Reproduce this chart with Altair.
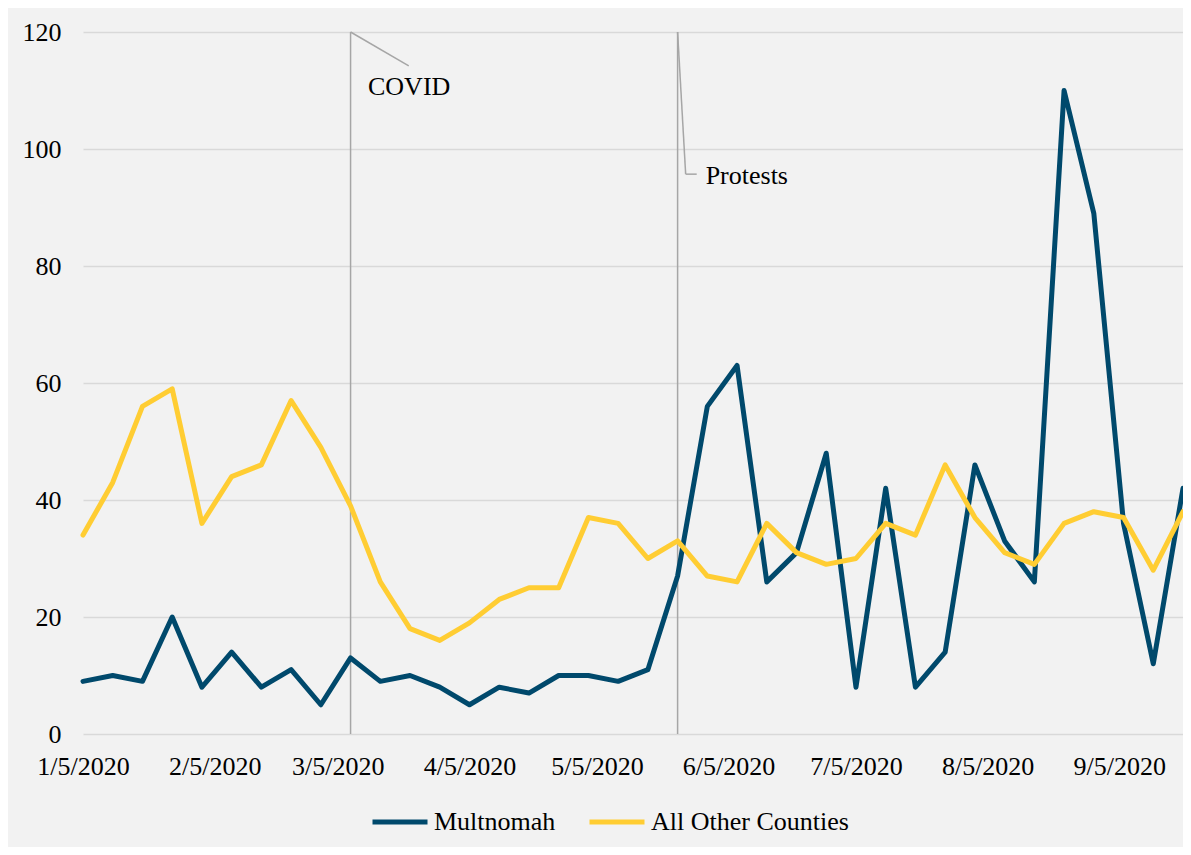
import altair as alt
import pandas as pd

# weekly data, week starting dates from 1/5/2020
start_date = "2020-01-05"
n_weeks = 38
multnomah = [9, 10, 9, 20, 8, 14, 8, 11, 5, 13, 9, 10, 8, 5, 8, 7, 10, 10, 9, 11,
             27, 56, 63, 26, 31, 48, 8, 42, 8, 14, 46, 33, 26, 110, 89, 36, 12, 42]
others = [34, 43, 56, 59, 36, 44, 46, 57, 49, 39, 26, 18, 16, 19, 23, 25, 25, 37, 36, 30,
          33, 27, 26, 36, 31, 29, 30, 36, 34, 46, 37, 31, 29, 36, 38, 37, 28, 38]
series_names = ["Multnomah", "All Other Counties"]
series_colors = ["#00496C", "#FFCD33"]

tick_dates = ["2020-01-05", "2020-02-05", "2020-03-05", "2020-04-05", "2020-05-05",
              "2020-06-05", "2020-07-05", "2020-08-05", "2020-09-05"]
y_ticks = [0, 20, 40, 60, 80, 100, 120]

# event markers (day offsets from start)
event_labels = ["COVID", "Protests"]
event_days = [63, 140]
# leader segments: day offsets and y values
seg_x1 = [63, 140, 141.9]
seg_y1 = [120, 120, 95.7]
seg_x2 = [76.7, 141.9, 144.5]
seg_y2 = [114.2, 95.7, 95.7]
label_days = [67.1, 146.6]
label_y = [110.6, 95.4]

base = pd.Timestamp(start_date)
dates = [base + pd.Timedelta(days=7 * i) for i in range(n_weeks)]

df = pd.DataFrame({
    "date": dates * 2,
    "value": multnomah + others,
    "series": [series_names[0]] * n_weeks + [series_names[1]] * n_weeks,
})

def d(days):
    return base + pd.to_timedelta(days, unit="D")

ev = pd.DataFrame({"x": [d(v) for v in event_days], "y": [0, 0], "y2": [120, 120]})
seg = pd.DataFrame({"x": [d(v) for v in seg_x1], "y": seg_y1,
                    "x2": [d(v) for v in seg_x2], "y2": seg_y2})
lab = pd.DataFrame({"x": [d(v) for v in label_days], "y": label_y, "t": event_labels})

x_scale = alt.Scale(domain=[base.isoformat(), d(259).isoformat()], nice=False)
y_scale = alt.Scale(domain=[0, 120], nice=False)

font = "Liberation Serif"

lines = alt.Chart(df).mark_line(strokeWidth=5, strokeJoin="round", strokeCap="round").encode(
    x=alt.X("date:T", scale=x_scale, title=None,
            axis=alt.Axis(values=[alt.DateTime(year=int(s[:4]), month=int(s[5:7]), date=int(s[8:]))
                                  for s in tick_dates],
                          format="%-m/%-d/%Y", labelFont=font, labelFontSize=26,
                          labelColor="#000000", labelPadding=19, ticks=False, domain=False,
                          grid=False, labelFlush=False, labelOverlap=False)),
    y=alt.Y("value:Q", scale=y_scale, title=None,
            axis=alt.Axis(values=y_ticks, labelFont=font, labelFontSize=26, labelColor="#000000",
                          labelPadding=22, ticks=False, domain=False, grid=True,
                          gridColor="#D9D9D9", gridWidth=1.5)),
    color=alt.Color("series:N", sort=series_names,
                    scale=alt.Scale(domain=series_names, range=series_colors),
                    legend=alt.Legend(title=None, orient="none", direction="horizontal",
                                      legendX=287, legendY=760, symbolType="stroke",
                                      symbolSize=3025, symbolStrokeWidth=5,
                                      labelFont=font, labelFontSize=26, labelColor="#000000",
                                      labelOffset=4, columnPadding=23, labelLimit=400)),
    order=alt.Order("series:N", sort="descending"),
)

rules = alt.Chart(ev).mark_rule(color="#A6A6A6", strokeWidth=1.5).encode(
    x=alt.X("x:T", scale=x_scale), y=alt.Y("y:Q", scale=y_scale), y2="y2:Q")

segs = alt.Chart(seg).mark_rule(color="#A6A6A6", strokeWidth=1.5).encode(
    x=alt.X("x:T", scale=x_scale), x2="x2:T", y=alt.Y("y:Q", scale=y_scale), y2="y2:Q")

texts = alt.Chart(lab).mark_text(align="left", baseline="middle", font=font, fontSize=26,
                                 color="#000000").encode(
    x=alt.X("x:T", scale=x_scale), y=alt.Y("y:Q", scale=y_scale), text="t:N")

chart = alt.layer(rules, segs, texts, lines).properties(
    width=1100, height=702,
    autosize=alt.AutoSizeParams(type="none"),
    padding={"left": 75, "top": 24, "right": 0, "bottom": 113},
    background="#F2F2F2",
).configure_view(stroke=None)

chart.save("out.html", embed_options={"renderer": "svg", "actions": False})
